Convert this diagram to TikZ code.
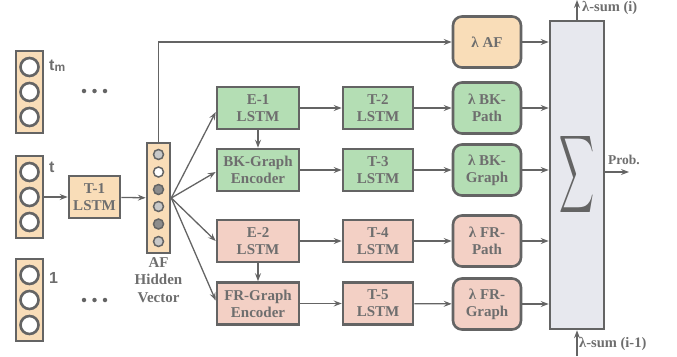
\documentclass[tikz,border=0pt]{standalone}
\usepackage{fontspec}
\usepackage{graphicx}
\setmainfont{Liberation Serif}
\newfontfamily\lblsans{Liberation Sans}
\usetikzlibrary{arrows.meta,calc}
\definecolor{lc}{HTML}{646464}
\definecolor{tc}{HTML}{6E6E6E}
\definecolor{orf}{HTML}{F9DDB8}
\definecolor{grf}{HTML}{B4DEB4}
\definecolor{pkf}{HTML}{F3D0C5}
\definecolor{sgf}{HTML}{E7E8EE}
\definecolor{cl}{HTML}{C8C8C8}
\definecolor{cd}{HTML}{8C8C8C}
\tikzset{
  bx/.style={draw=lc,line width=2.6pt,minimum height=42pt,align=center,inner sep=0pt,
    text=tc,font=\fontsize{15}{17}\selectfont\bfseries},
  grbox/.style={bx,fill=grf,minimum width=82pt},
  pkbox/.style={bx,fill=pkf,minimum width=82pt},
  tgbox/.style={bx,fill=grf,minimum width=70pt},
  tpbox/.style={bx,fill=pkf,minimum width=70pt},
  lam/.style={bx,rounded corners=9pt,minimum width=68pt,minimum height=51pt},
  vec/.style={draw=lc,line width=2.6pt,fill=orf,inner sep=0pt},
  bigc/.style={circle,draw=lc,line width=2.6pt,fill=white,minimum size=18pt,inner sep=0pt},
  smc/.style={circle,draw=lc,line width=1.5pt,minimum size=10pt,inner sep=0pt},
  arr/.style={draw=lc,line width=1.3pt,-{Stealth[length=8pt,width=6pt,inset=3pt]}},
  sml/.style={text=tc,font=\fontsize{14.5}{16}\selectfont\bfseries,inner sep=0pt},
  idx/.style={text=tc,font=\lblsans\fontsize{16}{16}\selectfont\bfseries,inner sep=0pt},
  dot/.style={circle,fill=lc,minimum size=4.5pt,inner sep=0pt}
}
\begin{document}
\begin{tikzpicture}[x=1pt,y=-1pt]
\useasboundingbox (0,0) rectangle (677,356);
% input vectors
\foreach \nm/\yy in {ina/92,inb/197,inc/300}{
  \node[vec,minimum width=27pt,minimum height=82pt] (\nm) at (29.5,\yy) {};
  \node[bigc] (\nm c1) at (29.5,\yy-25) {};
  \node[bigc] (\nm c2) at (29.5,\yy) {};
  \node[bigc] (\nm c3) at (29.5,\yy+25) {};
}
\node[idx,anchor=west] (ltm) at (49,66) {t\raisebox{-1pt}{\fontsize{12}{12}\selectfont m}};
\node[idx,anchor=west] (lt) at (49,167) {t};
\node[idx,anchor=west] (lone) at (49,278) {1};
\foreach \xx [count=\i] in {84,94.5,105}{
  \node[dot] (da\i) at (\xx,91) {};
  \node[dot] (db\i) at (\xx,300) {};
}
% T-1
\node[bx,fill=orf,minimum width=51pt] (t1) at (94.5,197) {T-1\\LSTM};
% AF vector
\node[vec,minimum width=23pt,minimum height=110pt] (af) at (158.5,198) {};
\node[smc,fill=cl] (af1) at (158.5,154.5) {};
\node[smc,fill=white] (af2) at (158.5,172) {};
\node[smc,fill=cd] (af3) at (158.5,189.5) {};
\node[smc,fill=cl] (af4) at (158.5,206.5) {};
\node[smc,fill=cd] (af5) at (158.5,224) {};
\node[smc,fill=cl] (af6) at (158.5,241.5) {};
\node[text=tc,font=\fontsize{15}{17.5}\selectfont\bfseries,align=center,anchor=north,inner sep=0pt] (afl) at (158.5,257) {AF\\Hidden\\Vector};
% encoders
\node[grbox] (e1) at (258,108) {E-1\\LSTM};
\node[grbox] (bkg) at (258,170) {BK-Graph\\Encoder};
\node[pkbox] (e2) at (258,241) {E-2\\LSTM};
\node[pkbox] (frg) at (258,303.5) {FR-Graph\\Encoder};
\node[tgbox] (t2) at (378,108) {T-2\\LSTM};
\node[tgbox] (t3) at (378,170) {T-3\\LSTM};
\node[tpbox] (t4) at (378,241) {T-4\\LSTM};
\node[tpbox] (t5) at (378,303.5) {T-5\\LSTM};
% lambda boxes
\node[lam,fill=orf] (laf) at (487,42) {λ AF};
\node[lam,fill=grf] (lbkp) at (487,108) {λ BK-\\Path};
\node[lam,fill=grf] (lbkg) at (487,170) {λ BK-\\Graph};
\node[lam,fill=pkf] (lfrp) at (487,241) {λ FR-\\Path};
\node[lam,fill=pkf] (lfrg) at (487,304) {λ FR-\\Graph};
% sigma
\node[draw=lc,line width=2.6pt,fill=sgf,minimum width=54pt,minimum height=308pt,inner sep=0pt,text=lc] (sig) at (577,175)
  {\resizebox{35pt}{57pt}{$\displaystyle\sum$}};
% connectors
\draw[arr] (inb) -- (t1);
\draw[arr] (t1) -- (af);
\draw[arr] (af.north) |- (laf.west);
\draw[arr] (af.east) -- ($(e1.west)+(0,4)$);
\draw[arr] (af.east) -- ($(bkg.west)+(0,2)$);
\draw[arr] (af.east) -- (e2.west);
\draw[arr] (af.east) -- ($(frg.west)+(0,-3)$);
\draw[arr] (e1) -- (bkg);
\draw[arr] (e2) -- (frg);
\draw[arr] (e1) -- (t2);
\draw[arr] (bkg) -- (t3);
\draw[arr] (e2) -- (t4);
\draw[arr] (frg) -- (t5);
\draw[arr] (t2) -- (lbkp);
\draw[arr] (t3) -- (lbkg);
\draw[arr] (t4) -- (lfrp);
\draw[arr] (t5) -- (lfrg);
\foreach \n in {laf,lbkp,lbkg,lfrp,lfrg}{
  \draw[arr] (\n.east) -- (\n.east -| sig.west);
}
\coordinate (pout) at (629,172);
\draw[arr] (sig.east |- pout) -- (pout);
\node[sml,anchor=south west,font=\fontsize{13.5}{15}\selectfont\bfseries] (prob) at (608,165) {Prob.};
\coordinate (stop) at (577,0);
\draw[arr] (sig.north) -- (stop);
\node[sml,anchor=west] (lsi) at (582,8) {λ-sum (i)};
\coordinate (sbot) at (577,356);
\draw[arr] (sbot) -- (sig.south);
\node[sml,anchor=west] (lsi1) at (579,344) {λ-sum (i-1)};
\end{tikzpicture}
\end{document}
